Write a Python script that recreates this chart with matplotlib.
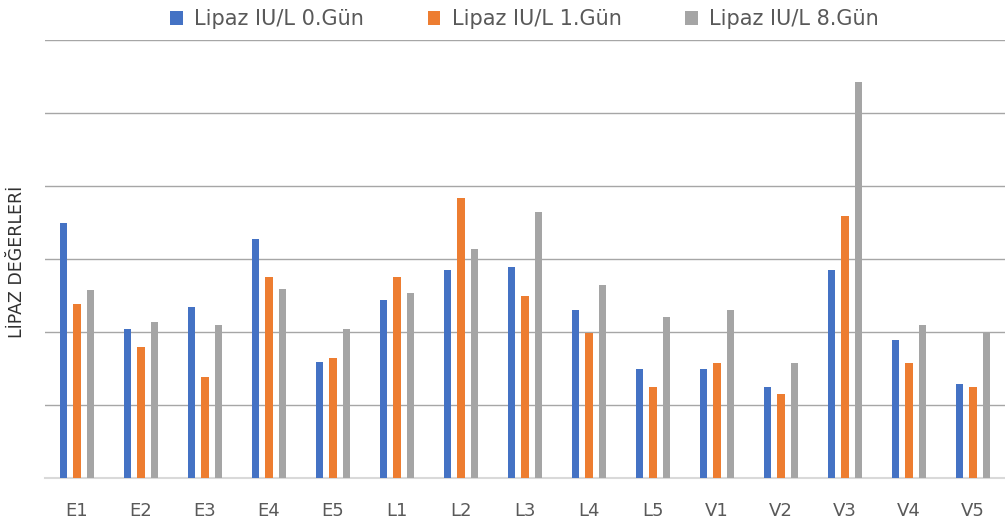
import matplotlib
matplotlib.use("Agg")
import matplotlib.pyplot as plt
import numpy as np

categories = ["E1", "E2", "E3", "E4", "E5", "L1", "L2", "L3", "L4", "L5",
              "V1", "V2", "V3", "V4", "V5"]
gun0 = [35.0, 20.4, 23.4, 32.8, 15.9, 24.4, 28.5, 28.9, 23.0, 14.9, 14.9, 12.5, 28.5, 18.9, 12.9]
gun1 = [23.9, 17.9, 13.9, 27.5, 16.4, 27.5, 38.4, 25.0, 19.9, 12.5, 15.8, 11.5, 35.9, 15.8, 12.5]
gun8 = [25.8, 21.4, 21.0, 25.9, 20.4, 25.4, 31.4, 36.5, 26.4, 22.0, 23.0, 15.8, 54.3, 20.9, 19.9]
series_names = ["Lipaz IU/L 0.Gün", "Lipaz IU/L 1.Gün", "Lipaz IU/L 8.Gün"]
colors = ["#4472C4", "#ED7D31", "#A5A5A5"]

fig = plt.figure(figsize=(10.05, 5.23), dpi=100)
ax = fig.add_axes([0.0448, 0.086, 0.9552, 0.8375])

x = np.arange(len(categories))
w = 0.115
offs = [-0.21, 0.0, 0.21]
for vals, name, c, o in zip([gun0, gun1, gun8], series_names, colors, offs):
    ax.bar(x + o, vals, width=w, color=c, label=name, zorder=3)

ax.set_xlim(-0.5, len(categories) - 0.5)
ax.set_ylim(0, 60)
ax.set_yticks([10, 20, 30, 40, 50, 60])
ax.yaxis.grid(True, color="#a6a6a6", linewidth=1.0, zorder=0)
ax.set_yticklabels([])
ax.tick_params(axis="y", length=0)
ax.set_xticks(x)
ax.set_xticklabels(categories, fontsize=13, color="#595959")
ax.tick_params(axis="x", length=0, pad=17)
for s in ["top", "right", "left"]:
    ax.spines[s].set_visible(False)
ax.spines["bottom"].set_color("#d9d9d9")
ax.spines["bottom"].set_linewidth(1.5)

fig.text(0.017, 0.50, "LİPAZ DEĞERLERİ", rotation=90, ha="center", va="center",
         fontsize=12.5, color="#303030", family=["Liberation Sans Narrow", "DejaVu Sans"])

fig.legend(loc="upper center", bbox_to_anchor=(0.522, 1.018), ncol=3, frameon=False,
           fontsize=15, labelcolor="#595959", handlelength=0.6, handleheight=0.6,
           columnspacing=3.05, handletextpad=0.55)

fig.savefig("out.png", dpi=100)
